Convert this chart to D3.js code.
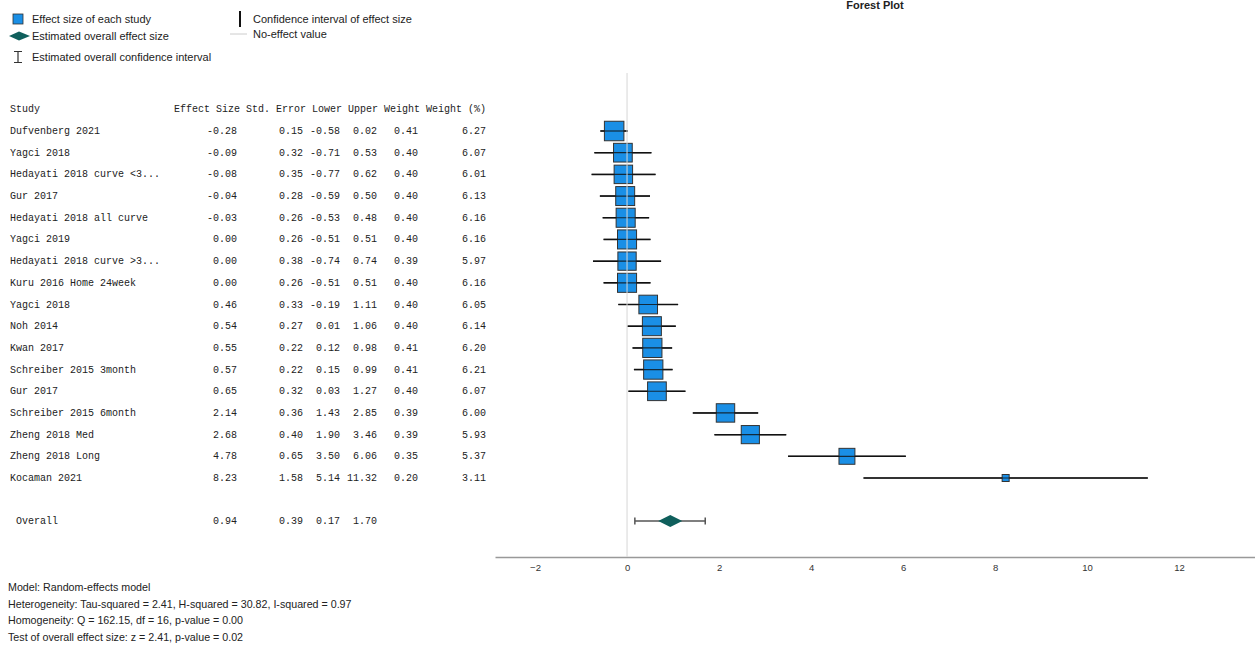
<!DOCTYPE html>
<html><head><meta charset="utf-8">
<script src="https://cdn.jsdelivr.net/npm/d3@7"></script>
<style>body{margin:0;background:#fff}svg{display:block}</style>
</head><body>
<script>
const studies = ["Dufvenberg 2021","Yagci 2018","Hedayati 2018 curve <3...","Gur 2017","Hedayati 2018 all curve","Yagci 2019","Hedayati 2018 curve >3...","Kuru 2016 Home 24week","Yagci 2018","Noh 2014","Kwan 2017","Schreiber 2015 3month","Gur 2017","Schreiber 2015 6month","Zheng 2018 Med","Zheng 2018 Long","Kocaman 2021"];
const effect = [-0.28,-0.09,-0.08,-0.04,-0.03,0.00,0.00,0.00,0.46,0.54,0.55,0.57,0.65,2.14,2.68,4.78,8.23];
const stdErr = [0.15,0.32,0.35,0.28,0.26,0.26,0.38,0.26,0.33,0.27,0.22,0.22,0.32,0.36,0.40,0.65,1.58];
const lower = [-0.58,-0.71,-0.77,-0.59,-0.53,-0.51,-0.74,-0.51,-0.19,0.01,0.12,0.15,0.03,1.43,1.90,3.50,5.14];
const upper = [0.02,0.53,0.62,0.50,0.48,0.51,0.74,0.51,1.11,1.06,0.98,0.99,1.27,2.85,3.46,6.06,11.32];
const weight = [0.41,0.40,0.40,0.40,0.40,0.40,0.39,0.40,0.40,0.40,0.41,0.41,0.40,0.39,0.39,0.35,0.20];
const weightPct = [6.27,6.07,6.01,6.13,6.16,6.16,5.97,6.16,6.05,6.14,6.20,6.21,6.07,6.00,5.93,5.37,3.11];
const overall = {label:" Overall", effect:0.94, se:0.39, lower:0.17, upper:1.70};
const xTicks = [-2,0,2,4,6,8,10,12];
const headers = ["Study","Effect Size","Std. Error","Lower","Upper","Weight","Weight (%)"];
const footer = ["Model: Random-effects model",
 "Heterogeneity: Tau-squared = 2.41, H-squared = 30.82, I-squared = 0.97",
 "Homogeneity: Q = 162.15, df = 16, p-value = 0.00",
 "Test of overall effect size: z = 2.41, p-value = 0.02"];

const W=1255,H=648;
const svg=d3.select("body").append("svg").attr("width",W).attr("height",H);
const sans="'Liberation Sans', Arial, sans-serif";
const mono="'Liberation Mono','Courier New', monospace";

// scales
const x=d3.scaleLinear().domain([-2.87,13.65]).range([495,1255]);
const y=d3.scaleLinear().domain([0,16]).range([131,478]);
const yOverall=521;
const size=d3.scaleLinear().domain([3.11,6.27]).range([7,19.5]);

// title
svg.append("text").attr("x",875).attr("y",9).attr("text-anchor","middle")
 .attr("font-family",sans).attr("font-size",11).attr("font-weight","bold").attr("fill","#222").text("Forest Plot");

// legend
const lg=svg.append("g").attr("font-family",sans).attr("font-size",11).attr("fill","#222");
lg.append("rect").attr("x",13).attr("y",14).attr("width",10).attr("height",10).attr("fill","#1a8fe6").attr("stroke","#333").attr("stroke-width",0.8);
lg.append("text").attr("x",32).attr("y",23).text("Effect size of each study");
lg.append("path").attr("d","M9,36 L19,31.5 L30,36 L19,40.5 Z").attr("fill","#0f5f5c");
lg.append("text").attr("x",32).attr("y",40).text("Estimated overall effect size");
lg.append("path").attr("d","M14,51.5 H22 M18,51.5 V62.5 M14,62.5 H22").attr("stroke","#333").attr("stroke-width",1.2).attr("fill","none");
lg.append("text").attr("x",32).attr("y",61).text("Estimated overall confidence interval");
lg.append("line").attr("x1",240).attr("x2",240).attr("y1",11).attr("y2",27).attr("stroke","#111").attr("stroke-width",2);
lg.append("text").attr("x",253).attr("y",23).text("Confidence interval of effect size");
lg.append("line").attr("x1",230).attr("x2",247).attr("y1",34).attr("y2",34).attr("stroke","#ccc").attr("stroke-width",1);
lg.append("text").attr("x",253).attr("y",38).text("No-effect value");

// table
const colEnds=[null,237,303,340,377,418,486];
const tg=svg.append("g").attr("font-family",mono).attr("font-size",10).attr("fill","#222");
tg.append("text").attr("x",10).attr("y",112).text(headers[0]);
tg.append("text").attr("x",486).attr("y",112).attr("text-anchor","end").attr("xml:space","preserve").text(headers.slice(1).join(" "));
const fmt=d3.format(".2f");
const fm=v=>fmt(v).replace("−","-");
studies.forEach((s,i)=>{
  const yy=y(i)+3;
  tg.append("text").attr("x",10).attr("y",yy).text(s);
  [effect[i],stdErr[i],lower[i],upper[i],weight[i],weightPct[i]].forEach((v,j)=>{
    tg.append("text").attr("x",colEnds[j+1]).attr("y",yy).attr("text-anchor","end").text(fm(v));
  });
});
tg.append("text").attr("x",10).attr("y",yOverall+3).attr("xml:space","preserve").text(overall.label);
[overall.effect,overall.se,overall.lower,overall.upper].forEach((v,j)=>{
  tg.append("text").attr("x",colEnds[j+1]).attr("y",yOverall+3).attr("text-anchor","end").text(fm(v));
});

// axis
const ax=svg.append("g").attr("transform","translate(0,557)")
 .call(d3.axisBottom(x).tickValues(xTicks).tickSize(0).tickPadding(7).tickFormat(d3.format("d")));
ax.select(".domain").attr("stroke","#999").attr("stroke-width",1.5);
ax.selectAll("text").attr("font-family",sans).attr("font-size",9.5).attr("fill","#333");

// CI lines
const plot=svg.append("g");
plot.selectAll(".ci").data(studies).join("line")
 .attr("x1",(d,i)=>x(lower[i])).attr("x2",(d,i)=>x(upper[i]))
 .attr("y1",(d,i)=>y(i)).attr("y2",(d,i)=>y(i)).attr("stroke","#111").attr("stroke-width",1.5);
plot.selectAll(".sq").data(studies).join("rect")
 .attr("x",(d,i)=>x(effect[i])-size(weightPct[i])/2)
 .attr("y",(d,i)=>y(i)-size(weightPct[i])/2)
 .attr("width",(d,i)=>size(weightPct[i])).attr("height",(d,i)=>size(weightPct[i]))
 .attr("fill","#1a8fe6").attr("stroke","#333").attr("stroke-width",1);
plot.selectAll(".ci2").data(studies).join("line")
 .attr("x1",(d,i)=>x(lower[i])).attr("x2",(d,i)=>x(upper[i]))
 .attr("y1",(d,i)=>y(i)).attr("y2",(d,i)=>y(i)).attr("stroke","#111").attr("stroke-width",1.2).attr("opacity",0.8);

// overall CI
const oy=yOverall;
plot.append("path").attr("d",`M${x(overall.lower)},${oy-3.5}V${oy+3.5}M${x(overall.lower)},${oy}H${x(overall.upper)}M${x(overall.upper)},${oy-3.5}V${oy+3.5}`)
 .attr("stroke","#555").attr("stroke-width",1.5).attr("fill","none");
const cx=x(overall.effect);
plot.append("path").attr("d",`M${cx-12},${oy} L${cx},${oy-6} L${cx+12},${oy} L${cx},${oy+6} Z`).attr("fill","#0f5f5c");

// no-effect line
svg.append("line").attr("x1",x(0)).attr("x2",x(0)).attr("y1",73).attr("y2",557)
 .attr("stroke","#d8d8d8").attr("stroke-width",1.2).attr("opacity",0.85);

// footer
const fg=svg.append("g").attr("font-family",sans).attr("font-size",10.7).attr("fill","#222");
footer.forEach((t,i)=>fg.append("text").attr("x",8).attr("y",591+i*16.6).text(t));
</script>
</body></html>
